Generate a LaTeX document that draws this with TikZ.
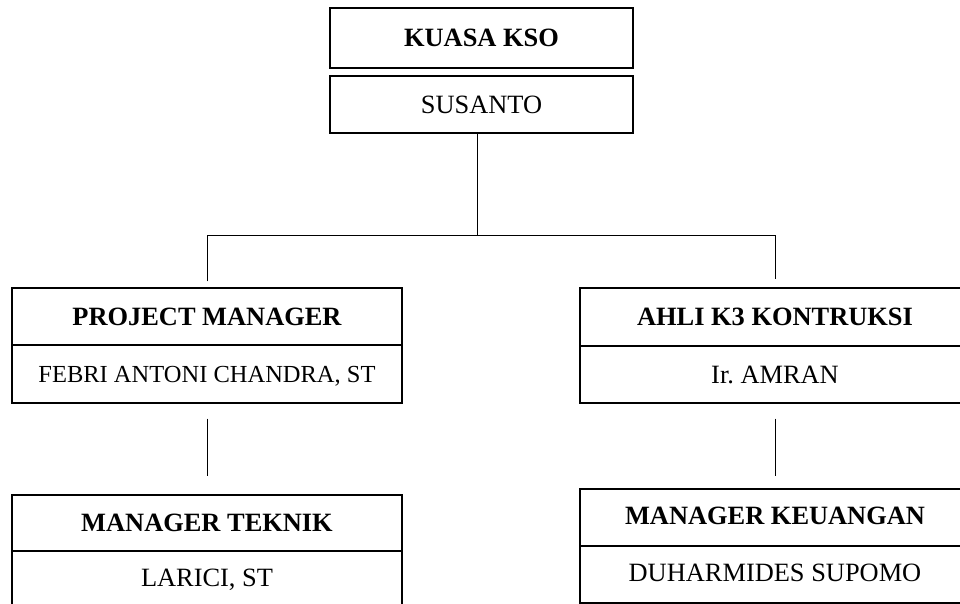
\documentclass[tikz,border=0pt]{standalone}
\usepackage{fontspec}
\setmainfont{Liberation Serif}
\begin{document}
\begin{tikzpicture}[x=1pt,y=-1pt,
  box/.style={draw,line width=1.3pt,rectangle,inner sep=0pt,text height=17.4pt,text depth=0pt,
    font=\fontsize{26.4}{30}\selectfont},
  titlebox/.style={box,font=\fontsize{26.4}{30}\selectfont\bfseries},
  conn/.style={line width=0.9pt}]
\useasboundingbox (0,0) rectangle (960,604);
\clip (0,0) rectangle (960,604);
% top
\node[titlebox,minimum width=303pt,minimum height=60pt] (kso) at (481.5,38) {KUASA KSO};
\node[box,minimum width=303pt,minimum height=57pt] (sus) at (481.5,104.5) {SUSANTO};
% left column
\node[titlebox,minimum width=390pt,minimum height=57pt] (pm) at (207,316.5) {PROJECT MANAGER};
\node[box,minimum width=390pt,minimum height=58pt,font=\fontsize{24.5}{30}\selectfont] (pmn) at (207,374) {FEBRI ANTONI CHANDRA, ST\hspace{20pt}};
\node[titlebox,minimum width=390pt,minimum height=56pt] (mt) at (207,523) {MANAGER TEKNIK};
\node[box,minimum width=390pt,minimum height=61pt,text depth=8pt] (mtn) at (207,581.5) {LARICI, ST};
% right column
\node[titlebox,minimum width=390pt,minimum height=58pt] (ahli) at (775,317) {AHLI K3 KONTRUKSI};
\node[box,minimum width=390pt,minimum height=57pt] (ahn) at (775,374.5) {Ir.\ AMRAN};
\node[titlebox,minimum width=390pt,minimum height=57pt,text depth=4pt] (mk) at (775,517.5) {MANAGER KEUANGAN};
\node[box,minimum width=390pt,minimum height=57pt,text depth=4pt] (mkn) at (775,574.5) {DUHARMIDES SUPOMO};
% connectors
\coordinate (j) at (477,235);
\draw[conn] (sus.south -| j) -- (j);
\draw[conn] ([yshift=6pt]pm.north) -- (pm.north |- j) -- (ahli.north |- j) -- ([yshift=8pt]ahli.north);
\draw[conn] ([yshift=-15pt]pmn.south) -- ([yshift=18pt]mt.north);
\draw[conn] ([yshift=-15pt]ahn.south) -- ([yshift=12pt]mk.north);
\end{tikzpicture}
\end{document}
